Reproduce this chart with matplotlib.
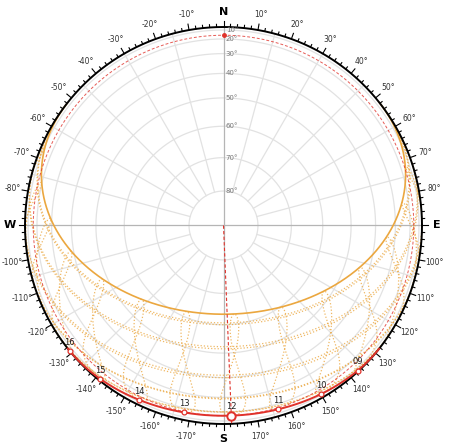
import numpy as np
import matplotlib
matplotlib.use("Agg")
import matplotlib.pyplot as plt

# site and dates
latitude = 50.0
longitude = 12.0
utc_offset = 1
summer_day = 172          # 21 June, solid orange path
today_day = 355           # 21 December, red path
now_hour = 12.0
month_days = [21, 52, 80, 111, 141, 202, 233, 264, 294, 325]   # 21st of the other months
analemma_hours = list(range(3, 22))
marked_hours = [9, 10, 11, 12, 13, 14, 15, 16]
alt_rings = [10, 20, 30, 40, 50, 60, 70, 80]
az_labels = [a for a in range(-170, 180, 10) if a not in (0, 90, -90)]
cardinals = {"N": 0, "E": 90, "S": 180, "W": -90}

ORANGE = "#eba73f"
RED = "#e0322b"
GRID = "#e2e2e2"


def sun_pos(doy, hour):
    g = 2 * np.pi / 365 * (doy - 1 + (hour - 12) / 24)
    eot = 229.18 * (0.000075 + 0.001868 * np.cos(g) - 0.032077 * np.sin(g)
                    - 0.014615 * np.cos(2 * g) - 0.040849 * np.sin(2 * g))
    dec = (0.006918 - 0.399912 * np.cos(g) + 0.070257 * np.sin(g)
           - 0.006758 * np.cos(2 * g) + 0.000907 * np.sin(2 * g)
           - 0.002697 * np.cos(3 * g) + 0.00148 * np.sin(3 * g))
    tst = hour * 60 + eot + 4 * longitude - 60 * utc_offset
    ha = np.radians(tst / 4 - 180)
    phi = np.radians(latitude)
    sin_alt = np.sin(phi) * np.sin(dec) + np.cos(phi) * np.cos(dec) * np.cos(ha)
    alt = np.arcsin(np.clip(sin_alt, -1, 1))
    az = np.arctan2(np.sin(ha), np.cos(ha) * np.sin(phi) - np.tan(dec) * np.cos(phi)) + np.pi
    return alt, az


def to_xy(alt, az):
    r = np.cos(alt)
    return r * np.sin(az), r * np.cos(az)


def draw_curve(ax, alt, az, **kw):
    x, y = to_xy(alt, az)
    x = np.where(alt >= 0, x, np.nan)
    y = np.where(alt >= 0, y, np.nan)
    ax.plot(x, y, **kw)


fig = plt.figure(figsize=(4.5, 4.47), dpi=100)
ax = fig.add_axes([0, 0, 1, 1])
R = 198.5
ax.set_xlim(-223.5 / R, 226.5 / R)
ax.set_ylim(-221.5 / R, 225.5 / R)
ax.axis("off")

t = np.linspace(0, 2 * np.pi, 721)
# altitude rings
for a in alt_rings:
    r = np.cos(np.radians(a))
    ax.plot(r * np.cos(t), r * np.sin(t), color=GRID, lw=0.9, zorder=1)
    ax.text(0.012, r, f"{a}°", fontsize=5, color="#777777", ha="left", va="center", zorder=6)
# radial lines
r0 = np.cos(np.radians(80))
for a in range(0, 360, 15):
    if a % 90 == 0:
        continue
    s = np.radians(a)
    ax.plot([r0 * np.sin(s), np.sin(s)], [r0 * np.cos(s), np.cos(s)], color=GRID, lw=0.9, zorder=1)
ax.plot([0, 0], [-1, 1], color="#b5b5b5", lw=0.9, zorder=1)
ax.plot([-1, 1], [0, 0], color="#b5b5b5", lw=0.9, zorder=1)

# date paths
hrs = np.linspace(0, 24, 1441)
for d in month_days:
    alt, az = sun_pos(d, hrs)
    draw_curve(ax, alt, az, color=ORANGE, lw=0.9, ls=(0, (1, 1.6)), alpha=0.8, zorder=2)
# analemmas
days = np.arange(1, 367)
for h in analemma_hours:
    alt, az = sun_pos(days, h)
    draw_curve(ax, alt, az, color=ORANGE, lw=0.9, ls=(0, (1, 1.6)), alpha=0.8, zorder=2)
# summer solstice
alt, az = sun_pos(summer_day, hrs)
draw_curve(ax, alt, az, color=ORANGE, lw=1.2, zorder=3)

# outer circle and ticks
ax.plot(np.cos(t), np.sin(t), color="black", lw=1.4, zorder=4)
for a in range(0, 360, 2):
    s = np.radians(a)
    L = 0.03 if a % 10 == 0 else 0.014
    ax.plot([np.sin(s), (1 + L) * np.sin(s)], [np.cos(s), (1 + L) * np.cos(s)],
            color="black", lw=0.8, zorder=4)
for a in az_labels:
    s = np.radians(a)
    ax.text(1.08 * np.sin(s), 1.08 * np.cos(s), f"{a}°", fontsize=5.5, color="#333333",
            ha="center", va="center")
for k, a in cardinals.items():
    s = np.radians(a)
    ax.text(1.075 * np.sin(s), 1.075 * np.cos(s), k, fontsize=8, fontweight="bold",
            ha="center", va="center")

# today's path
alt, az = sun_pos(today_day, hrs)
draw_curve(ax, alt, az, color=RED, lw=1.4, zorder=5)
for h in marked_hours:
    alt, az = sun_pos(today_day, h)
    x, y = to_xy(alt, az)
    big = h == now_hour
    ax.plot(x, y, "o", ms=6 if big else 3.5, mfc="white", mec=RED, mew=1.4 if big else 0.9, zorder=7)
    ax.text(x, y + 0.045, f"{h:02d}", fontsize=6, color="#222222", ha="center", va="center", zorder=7)

# current sun position
alt, az = sun_pos(today_day, now_hour)
rs = np.cos(alt)
ax.plot(rs * np.cos(t), rs * np.sin(t), color=RED, lw=0.7, ls=(0, (3, 2)), alpha=0.8, zorder=5)
ax.plot([0, np.sin(az)], [0, np.cos(az)], color=RED, lw=0.8, ls=(0, (3, 2)), zorder=5)
ax.plot(0, rs, "o", ms=2.5, color=RED, zorder=6)

fig.savefig("out.png", dpi=100)
